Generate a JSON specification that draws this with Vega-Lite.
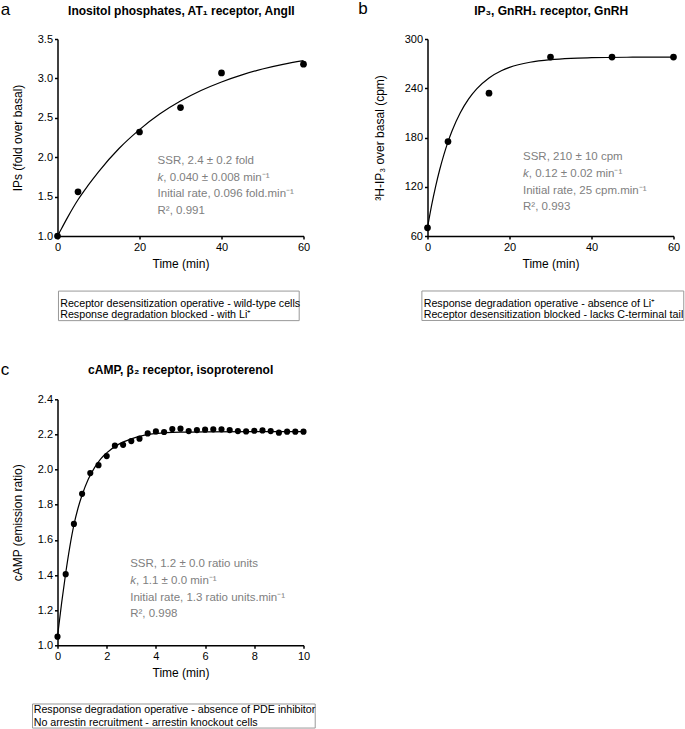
{
  "$schema": "https://vega.github.io/schema/vega-lite/v6.json",
  "padding": {"left": 0.5, "top": 0, "right": 0, "bottom": 0},
  "background": "white",
  "config": {
    "font": "Liberation Sans",
    "view": {"stroke": null},
    "axis": {
      "grid": false, "domainColor": "black", "domainWidth": 1.5,
      "tickColor": "black", "tickSize": 3, "tickWidth": 1.5,
      "labelFont": "Liberation Sans", "labelFontSize": 11, "labelColor": "black", "labelPadding": 2, "labelOverlap": false,
      "titleFont": "Liberation Sans", "titleFontSize": 12, "titleFontWeight": "normal", "titleColor": "black"
    },
    "axisX": {"labelFlush": false, "titlePadding": 6},
    "text": {"font": "Liberation Sans"}
  },
  "datasets": {
    "a_points": [
      {"t": 0, "v": 1.0}, {"t": 5, "v": 1.56}, {"t": 20, "v": 2.32}, {"t": 30, "v": 2.63}, {"t": 40, "v": 3.07}, {"t": 60, "v": 3.18}
    ],
    "a_curve": [
      {"t": 0, "v": 1.0}, {"t": 1, "v": 1.096}, {"t": 2.5, "v": 1.24}, {"t": 5, "v": 1.46}, {"t": 7.5, "v": 1.645}, {"t": 10, "v": 1.815},
      {"t": 15, "v": 2.11}, {"t": 20, "v": 2.35}, {"t": 25, "v": 2.55}, {"t": 30, "v": 2.712}, {"t": 35, "v": 2.846},
      {"t": 40, "v": 2.955}, {"t": 45, "v": 3.045}, {"t": 50, "v": 3.119}, {"t": 55, "v": 3.178}, {"t": 60, "v": 3.225}
    ],
    "a_text": [
      {"letter": "a", "title": "Inositol phosphates, AT₁ receptor, AngII",
       "l1": "SSR, 2.4 ± 0.2 fold", "k": "k", "kline": ", 0.040 ± 0.008 min⁻¹",
       "l34": ["Initial rate, 0.096 fold.min⁻¹", "R², 0.991"],
       "box": ["Receptor desensitization operative - wild-type cells", "Response degradation blocked - with Li⁺"]}
    ],
    "b_points": [
      {"t": 0, "v": 70}, {"t": 5, "v": 175}, {"t": 15, "v": 234}, {"t": 30, "v": 278}, {"t": 45, "v": 278}, {"t": 60, "v": 278}
    ],
    "b_curve": [
      {"t": 0, "v": 70}, {"t": 1, "v": 97.2}, {"t": 2, "v": 120.8}, {"t": 3, "v": 141.3}, {"t": 4, "v": 159.2}, {"t": 5, "v": 174.7},
      {"t": 6, "v": 188.2}, {"t": 8, "v": 210.1}, {"t": 10, "v": 226.7}, {"t": 12, "v": 239.2}, {"t": 15, "v": 252.5},
      {"t": 18, "v": 261.3}, {"t": 20, "v": 265.4}, {"t": 25, "v": 271.7}, {"t": 30, "v": 274.9}, {"t": 35, "v": 276.5},
      {"t": 40, "v": 277.2}, {"t": 50, "v": 277.8}, {"t": 60, "v": 278}
    ],
    "b_text": [
      {"letter": "b", "title": "IP₃, GnRH₁ receptor, GnRH",
       "l1": "SSR, 210 ± 10 cpm", "k": "k", "kline": ", 0.12 ± 0.02 min⁻¹",
       "l34": ["Initial rate, 25 cpm.min⁻¹", "R², 0.993"],
       "box": ["Response degradation operative - absence of Li⁺", "Receptor desensitization blocked - lacks C-terminal tail"]}
    ],
    "c_points": [
      {"t": 0, "v": 1.049}, {"t": 0.333, "v": 1.405}, {"t": 0.667, "v": 1.691}, {"t": 1.0, "v": 1.862},
      {"t": 1.333, "v": 1.98}, {"t": 1.667, "v": 2.025}, {"t": 2.0, "v": 2.077}, {"t": 2.333, "v": 2.136},
      {"t": 2.667, "v": 2.141}, {"t": 3.0, "v": 2.162}, {"t": 3.333, "v": 2.176}, {"t": 3.667, "v": 2.206},
      {"t": 4.0, "v": 2.217}, {"t": 4.333, "v": 2.214}, {"t": 4.667, "v": 2.231}, {"t": 5.0, "v": 2.233},
      {"t": 5.333, "v": 2.219}, {"t": 5.667, "v": 2.225}, {"t": 6.0, "v": 2.227}, {"t": 6.333, "v": 2.229},
      {"t": 6.667, "v": 2.229}, {"t": 7.0, "v": 2.225}, {"t": 7.333, "v": 2.219}, {"t": 7.667, "v": 2.217},
      {"t": 8.0, "v": 2.221}, {"t": 8.333, "v": 2.223}, {"t": 8.667, "v": 2.219}, {"t": 9.0, "v": 2.21},
      {"t": 9.333, "v": 2.216}, {"t": 9.667, "v": 2.216}, {"t": 10.0, "v": 2.216}
    ],
    "c_curve": [
      {"t": 0, "v": 1.05}, {"t": 0.167, "v": 1.24}, {"t": 0.333, "v": 1.41}, {"t": 0.5, "v": 1.56}, {"t": 0.667, "v": 1.685},
      {"t": 0.833, "v": 1.78}, {"t": 1.0, "v": 1.855}, {"t": 1.25, "v": 1.945}, {"t": 1.5, "v": 2.01}, {"t": 1.75, "v": 2.06},
      {"t": 2.0, "v": 2.095}, {"t": 2.5, "v": 2.145}, {"t": 3.0, "v": 2.175}, {"t": 3.5, "v": 2.195}, {"t": 4.0, "v": 2.205},
      {"t": 5.0, "v": 2.213}, {"t": 6.0, "v": 2.215}, {"t": 8.0, "v": 2.216}, {"t": 10.0, "v": 2.216}
    ],
    "c_text": [
      {"letter": "c", "title": "cAMP, β₂ receptor, isoproterenol",
       "l1": "SSR, 1.2 ± 0.0 ratio units", "k": "k", "kline": ", 1.1 ± 0.0 min⁻¹",
       "l34": ["Initial rate, 1.3 ratio units.min⁻¹", "R², 0.998"],
       "box": ["Response degradation operative - absence of PDE inhibitor", "No arrestin recruitment - arrestin knockout cells"]}
    ]
  },
  "concat": [
    {
      "width": 246, "height": 197,
      "layer": [
        {
          "data": {"name": "a_curve"},
          "mark": {"type": "line", "color": "black", "strokeWidth": 1.2, "interpolate": "monotone"},
          "encoding": {
            "x": {"field": "t", "type": "quantitative", "scale": {"domain": [0, 60], "nice": false, "zero": false},
                  "axis": {"values": [0, 20, 40, 60], "title": "Time (min)", "labelOverlap": false}},
            "y": {"field": "v", "type": "quantitative", "scale": {"domain": [1, 3.5], "nice": false, "zero": false},
                  "axis": {"values": [1, 1.5, 2, 2.5, 3, 3.5], "format": ".1f", "title": "IPs (fold over basal)", "titlePadding": 13, "labelOverlap": false, "labelSeparation": 0, "tickCount": 6}}
          }
        },
        {
          "data": {"name": "a_points"},
          "mark": {"type": "circle", "color": "black", "opacity": 1, "size": 45},
          "encoding": {"x": {"field": "t", "type": "quantitative"}, "y": {"field": "v", "type": "quantitative"}}
        },
        {
          "data": {"name": "a_text"},
          "layer": [
            {"mark": {"type": "text", "align": "left", "baseline": "alphabetic", "fontSize": 11.5, "color": "#808080"},
             "encoding": {"x": {"datum": 24.4, "type": "quantitative"}, "y": {"datum": 1.915, "type": "quantitative"}, "text": {"field": "l1"}}},
            {"mark": {"type": "text", "align": "left", "baseline": "alphabetic", "fontSize": 11.5, "color": "#808080", "fontStyle": "italic", "dy": 16.8},
             "encoding": {"x": {"datum": 24.4, "type": "quantitative"}, "y": {"datum": 1.915, "type": "quantitative"}, "text": {"field": "k"}}},
            {"mark": {"type": "text", "align": "left", "baseline": "alphabetic", "fontSize": 11.5, "color": "#808080", "dx": 5.8, "dy": 16.8},
             "encoding": {"x": {"datum": 24.4, "type": "quantitative"}, "y": {"datum": 1.915, "type": "quantitative"}, "text": {"field": "kline"}}},
            {"mark": {"type": "text", "align": "left", "baseline": "alphabetic", "fontSize": 11.5, "lineHeight": 16.8, "color": "#808080", "dy": 33.6},
             "encoding": {"x": {"datum": 24.4, "type": "quantitative"}, "y": {"datum": 1.915, "type": "quantitative"}, "text": {"field": "l34"}}},
            {"mark": {"type": "text", "align": "left", "baseline": "alphabetic", "fontSize": 17, "color": "black"},
             "encoding": {"x": {"datum": -13.85, "type": "quantitative"}, "y": {"datum": 3.808, "type": "quantitative"}, "text": {"field": "letter"}}},
            {"mark": {"type": "text", "align": "center", "baseline": "alphabetic", "fontSize": 12, "fontWeight": "bold", "color": "black"},
             "encoding": {"x": {"datum": 30.2, "type": "quantitative"}, "y": {"datum": 3.804, "type": "quantitative"}, "text": {"field": "title"}}},
            {"mark": {"type": "rect", "fillOpacity": 0, "stroke": "#999999", "strokeWidth": 1},
             "encoding": {"x": {"datum": 0.24, "type": "quantitative"}, "x2": {"datum": 58.95}, "y": {"datum": 0.301, "type": "quantitative"}, "y2": {"datum": -0.074}}},
            {"mark": {"type": "text", "align": "left", "baseline": "alphabetic", "fontSize": 10.7, "lineHeight": 11, "color": "black"},
             "encoding": {"x": {"datum": 0.66, "type": "quantitative"}, "y": {"datum": 0.104, "type": "quantitative"}, "text": {"field": "box"}}}
          ]
        }
      ]
    },
    {
      "width": 246, "height": 197,
      "layer": [
        {
          "data": {"name": "b_curve"},
          "mark": {"type": "line", "color": "black", "strokeWidth": 1.2, "interpolate": "monotone"},
          "encoding": {
            "x": {"field": "t", "type": "quantitative", "scale": {"domain": [0, 60], "nice": false, "zero": false},
                  "axis": {"values": [0, 20, 40, 60], "title": "Time (min)", "labelOverlap": false}},
            "y": {"field": "v", "type": "quantitative", "scale": {"domain": [60, 300], "nice": false, "zero": false},
                  "axis": {"values": [60, 120, 180, 240, 300], "format": "d", "title": "³H-IP₃ over basal (cpm)", "titlePadding": 18, "labelOverlap": false}}
          }
        },
        {
          "data": {"name": "b_points"},
          "mark": {"type": "circle", "color": "black", "opacity": 1, "size": 45},
          "encoding": {"x": {"field": "t", "type": "quantitative"}, "y": {"field": "v", "type": "quantitative"}}
        },
        {
          "data": {"name": "b_text"},
          "layer": [
            {"mark": {"type": "text", "align": "left", "baseline": "alphabetic", "fontSize": 11.5, "color": "#808080"},
             "encoding": {"x": {"datum": 23.3, "type": "quantitative"}, "y": {"datum": 152.2, "type": "quantitative"}, "text": {"field": "l1"}}},
            {"mark": {"type": "text", "align": "left", "baseline": "alphabetic", "fontSize": 11.5, "color": "#808080", "fontStyle": "italic", "dy": 16.7},
             "encoding": {"x": {"datum": 23.3, "type": "quantitative"}, "y": {"datum": 152.2, "type": "quantitative"}, "text": {"field": "k"}}},
            {"mark": {"type": "text", "align": "left", "baseline": "alphabetic", "fontSize": 11.5, "color": "#808080", "dx": 5.8, "dy": 16.7},
             "encoding": {"x": {"datum": 23.3, "type": "quantitative"}, "y": {"datum": 152.2, "type": "quantitative"}, "text": {"field": "kline"}}},
            {"mark": {"type": "text", "align": "left", "baseline": "alphabetic", "fontSize": 11.5, "lineHeight": 16.7, "color": "#808080", "dy": 33.4},
             "encoding": {"x": {"datum": 23.3, "type": "quantitative"}, "y": {"datum": 152.2, "type": "quantitative"}, "text": {"field": "l34"}}},
            {"mark": {"type": "text", "align": "left", "baseline": "alphabetic", "fontSize": 17, "color": "black"},
             "encoding": {"x": {"datum": -16.9, "type": "quantitative"}, "y": {"datum": 330.1, "type": "quantitative"}, "text": {"field": "letter"}}},
            {"mark": {"type": "text", "align": "center", "baseline": "alphabetic", "fontSize": 12, "fontWeight": "bold", "color": "black"},
             "encoding": {"x": {"datum": 30.16, "type": "quantitative"}, "y": {"datum": 328.9, "type": "quantitative"}, "text": {"field": "title"}}},
            {"mark": {"type": "rect", "fillOpacity": 0, "stroke": "#999999", "strokeWidth": 1},
             "encoding": {"x": {"datum": -1.37, "type": "quantitative"}, "x2": {"datum": 62.5}, "y": {"datum": -7.0, "type": "quantitative"}, "y2": {"datum": -42.9}}},
            {"mark": {"type": "text", "align": "left", "baseline": "alphabetic", "fontSize": 10.7, "lineHeight": 11, "color": "black"},
             "encoding": {"x": {"datum": -0.93, "type": "quantitative"}, "y": {"datum": -25.9, "type": "quantitative"}, "text": {"field": "box"}}}
          ]
        }
      ]
    },
    {
      "width": 246, "height": 246,
      "layer": [
        {
          "data": {"name": "c_curve"},
          "mark": {"type": "line", "color": "black", "strokeWidth": 1.2, "interpolate": "monotone"},
          "encoding": {
            "x": {"field": "t", "type": "quantitative", "scale": {"domain": [0, 10], "nice": false, "zero": false},
                  "axis": {"values": [0, 2, 4, 6, 8, 10], "title": "Time (min)", "labelOverlap": false}},
            "y": {"field": "v", "type": "quantitative", "scale": {"domain": [1, 2.4], "nice": false, "zero": false},
                  "axis": {"values": [1.0, 1.2, 1.4, 1.6, 1.8, 2.0, 2.2, 2.4], "format": ".1f", "title": "cAMP (emission ratio)", "titlePadding": 13, "labelOverlap": false, "labelSeparation": 0, "tickCount": 8}}
          }
        },
        {
          "data": {"name": "c_points"},
          "mark": {"type": "circle", "color": "black", "opacity": 1, "size": 38},
          "encoding": {"x": {"field": "t", "type": "quantitative"}, "y": {"field": "v", "type": "quantitative"}}
        },
        {
          "data": {"name": "c_text"},
          "layer": [
            {"mark": {"type": "text", "align": "left", "baseline": "alphabetic", "fontSize": 11.5, "color": "#808080"},
             "encoding": {"x": {"datum": 2.955, "type": "quantitative"}, "y": {"datum": 1.444, "type": "quantitative"}, "text": {"field": "l1"}}},
            {"mark": {"type": "text", "align": "left", "baseline": "alphabetic", "fontSize": 11.5, "color": "#808080", "fontStyle": "italic", "dy": 16.7},
             "encoding": {"x": {"datum": 2.955, "type": "quantitative"}, "y": {"datum": 1.444, "type": "quantitative"}, "text": {"field": "k"}}},
            {"mark": {"type": "text", "align": "left", "baseline": "alphabetic", "fontSize": 11.5, "color": "#808080", "dx": 5.8, "dy": 16.7},
             "encoding": {"x": {"datum": 2.955, "type": "quantitative"}, "y": {"datum": 1.444, "type": "quantitative"}, "text": {"field": "kline"}}},
            {"mark": {"type": "text", "align": "left", "baseline": "alphabetic", "fontSize": 11.5, "lineHeight": 16.7, "color": "#808080", "dy": 33.4},
             "encoding": {"x": {"datum": 2.955, "type": "quantitative"}, "y": {"datum": 1.444, "type": "quantitative"}, "text": {"field": "l34"}}},
            {"mark": {"type": "text", "align": "left", "baseline": "alphabetic", "fontSize": 17, "color": "black"},
             "encoding": {"x": {"datum": -2.309, "type": "quantitative"}, "y": {"datum": 2.541, "type": "quantitative"}, "text": {"field": "letter"}}},
            {"mark": {"type": "text", "align": "center", "baseline": "alphabetic", "fontSize": 12, "fontWeight": "bold", "color": "black"},
             "encoding": {"x": {"datum": 5.008, "type": "quantitative"}, "y": {"datum": 2.545, "type": "quantitative"}, "text": {"field": "title"}}},
            {"mark": {"type": "rect", "fillOpacity": 0, "stroke": "#999999", "strokeWidth": 1},
             "encoding": {"x": {"datum": -1.016, "type": "quantitative"}, "x2": {"datum": 10.476}, "y": {"datum": 0.666, "type": "quantitative"}, "y2": {"datum": 0.529}}},
            {"mark": {"type": "text", "align": "left", "baseline": "alphabetic", "fontSize": 10.7, "lineHeight": 12.7, "color": "black"},
             "encoding": {"x": {"datum": -0.967, "type": "quantitative"}, "y": {"datum": 0.615, "type": "quantitative"}, "text": {"field": "box"}}}
          ]
        }
      ]
    }
  ],
  "columns": 2,
  "spacing": {"row": 163.3, "column": 124},
  "bounds": "flush"
}
